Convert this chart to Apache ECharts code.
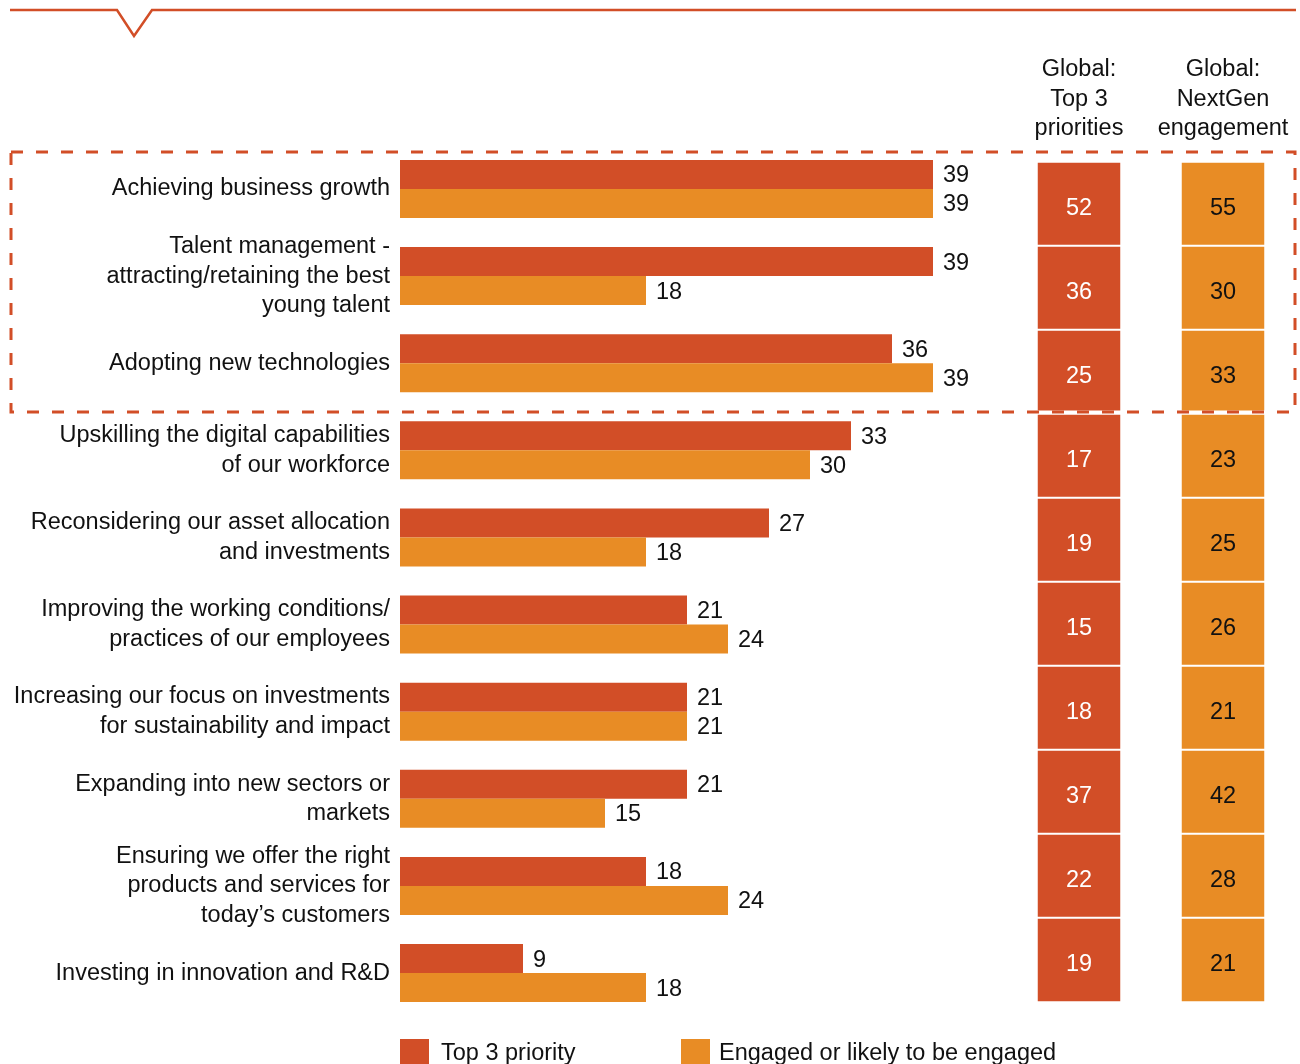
<!DOCTYPE html>
<html>
<head>
<meta charset="utf-8">
<script src="https://cdn.jsdelivr.net/npm/echarts@6/dist/echarts.min.js"></script>
<style>
  html, body { margin: 0; padding: 0; background: #fff; }
  #chart { width: 1300px; height: 1064px; }
</style>
</head>
<body>
<div id="chart"></div>
<script>
// Business priorities: share naming each as a top-3 priority vs. share engaged
const categories = [
  'Achieving business growth',
  'Talent management -\nattracting/retaining the best\nyoung talent',
  'Adopting new technologies',
  'Upskilling the digital capabilities\nof our workforce',
  'Reconsidering our asset allocation\nand investments',
  'Improving the working conditions/\npractices of our employees',
  'Increasing our focus on investments\nfor sustainability and impact',
  'Expanding into new sectors or\nmarkets',
  'Ensuring we offer the right\nproducts and services for\ntoday\u2019s customers',
  'Investing in innovation and R&D'
];
const top3Priority = [39, 39, 36, 33, 27, 21, 21, 21, 18, 9];
const engaged = [39, 18, 39, 30, 18, 24, 21, 15, 24, 18];

// Global comparison columns
const globalTop3 = [52, 36, 25, 17, 19, 15, 18, 37, 22, 19];
const globalNextGen = [55, 30, 33, 23, 25, 26, 21, 42, 28, 21];
const headerTop3 = 'Global:\nTop 3\npriorities';
const headerNextGen = 'Global:\nNextGen\nengagement';
const seriesNames = ['Top 3 priority', 'Engaged or likely to be engaged'];

const RED = '#D24E27';
const ORANGE = '#E88C25';
const INK = '#111111';
const FONT = '"Liberation Sans", Arial, Helvetica, sans-serif';
const FS = 23.5;

const chart = echarts.init(document.getElementById('chart'), null, { renderer: 'canvas' });

function cellGrid(idx) {
  return {
    xAxis: { type: 'category', gridIndex: idx, data: ['c'], show: false },
    yAxis: { type: 'category', gridIndex: idx, data: categories, inverse: true, show: false }
  };
}
const g1 = cellGrid(1), g2 = cellGrid(2);

const option = {
  animation: false,
  textStyle: { fontFamily: FONT },
  grid: [
    { left: 400, top: 145.4, width: 820, height: 871.2 },
    { left: 1037, top: 162, width: 84, height: 840 },
    { left: 1181, top: 162, width: 84, height: 840 }
  ],
  xAxis: [
    { type: 'value', gridIndex: 0, min: 0, max: 60, show: false },
    g1.xAxis, g2.xAxis
  ],
  yAxis: [
    {
      type: 'category', gridIndex: 0, data: categories, inverse: true,
      axisLine: { show: false }, axisTick: { show: false },
      axisLabel: {
        margin: 10, fontSize: FS, lineHeight: 29.5, color: INK,
        fontFamily: FONT, align: 'right', padding: [2, 0, 0, 0]
      }
    },
    g1.yAxis, g2.yAxis
  ],
  legend: [
    {
      data: [seriesNames[0]], left: 400, top: 1039, padding: 0,
      icon: 'rect', itemWidth: 29, itemHeight: 29,
      textStyle: { fontSize: FS, color: INK, fontFamily: FONT, padding: [0, 0, 0, 7] },
      selectedMode: false
    },
    {
      data: [seriesNames[1]], left: 681, top: 1039, padding: 0,
      icon: 'rect', itemWidth: 29, itemHeight: 29,
      textStyle: { fontSize: FS, color: INK, fontFamily: FONT, padding: [0, 0, 0, 4] },
      selectedMode: false
    }
  ],
  series: [
    {
      name: seriesNames[0], type: 'bar', xAxisIndex: 0, yAxisIndex: 0,
      data: top3Priority, barWidth: 29, barGap: '0%',
      itemStyle: { color: RED },
      label: { show: true, position: 'right', distance: 10, offset: [0, 1.5], fontSize: FS, color: INK, fontFamily: FONT }
    },
    {
      name: seriesNames[1], type: 'bar', xAxisIndex: 0, yAxisIndex: 0,
      data: engaged, barWidth: 29, barGap: '0%',
      itemStyle: { color: ORANGE },
      label: { show: true, position: 'right', distance: 10, offset: [0, 1.5], fontSize: FS, color: INK, fontFamily: FONT }
    },
    {
      type: 'heatmap', xAxisIndex: 1, yAxisIndex: 1,
      data: globalTop3.map((v, i) => [0, i, v]),
      itemStyle: { color: RED, borderColor: '#fff', borderWidth: 2 },
      label: { show: true, fontSize: FS, color: '#fff', fontFamily: FONT, offset: [0, 5] },
      emphasis: { disabled: true }
    },
    {
      type: 'heatmap', xAxisIndex: 2, yAxisIndex: 2,
      data: globalNextGen.map((v, i) => [0, i, v]),
      itemStyle: { color: ORANGE, borderColor: '#fff', borderWidth: 2 },
      label: { show: true, fontSize: FS, color: INK, fontFamily: FONT, offset: [0, 5] },
      emphasis: { disabled: true }
    }
  ],
  graphic: [
    // top rule with the notch
    {
      type: 'polyline', z: 100,
      shape: { points: [[10, 10], [117, 10], [134, 36], [152, 10], [1296, 10]] },
      style: { stroke: RED, lineWidth: 2.5, fill: null }
    },
    // column headers
    {
      type: 'text', z: 100, x: 1079, y: 55,
      style: { text: headerTop3, textAlign: 'center', font: FS + 'px ' + FONT, lineHeight: 29.5, fill: INK }
    },
    {
      type: 'text', z: 100, x: 1223, y: 55,
      style: { text: headerNextGen, textAlign: 'center', font: FS + 'px ' + FONT, lineHeight: 29.5, fill: INK }
    },
    // highlight box around the first three rows
    {
      type: 'rect', z: 100,
      shape: { x: 11, y: 152, width: 1284, height: 260 },
      style: { stroke: '#fff', lineWidth: 3, fill: null }
    },
    {
      type: 'rect', z: 101,
      shape: { x: 11, y: 152, width: 1284, height: 260 },
      style: { stroke: RED, lineWidth: 3, fill: null, lineDash: [12, 13] }
    }
  ]
};

chart.setOption(option);
</script>
</body>
</html>
